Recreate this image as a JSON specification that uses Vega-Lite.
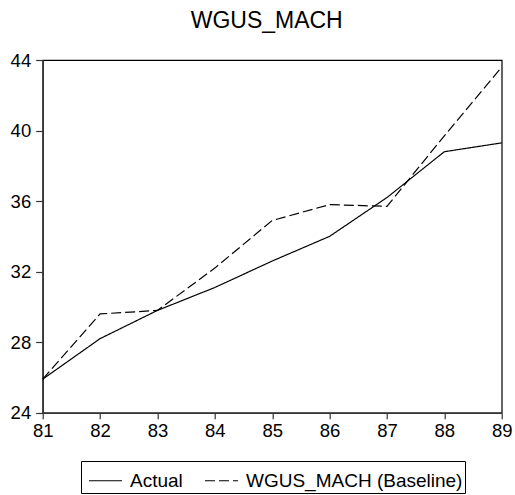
{
  "$schema": "https://vega.github.io/schema/vega-lite/v6.json",
  "width": 459,
  "height": 352.7,
  "autosize": {"type": "none"},
  "padding": {"left": 42.7, "top": 60, "right": 13.3, "bottom": 82.3},
  "background": "white",
  "title": {
    "text": "WGUS_MACH",
    "font": "Liberation Sans",
    "fontSize": 23,
    "fontWeight": "normal",
    "color": "black",
    "anchor": "middle",
    "offset": 18,
    "dx": -5.5
  },
  "config": {
    "view": {"stroke": "black", "strokeWidth": 1.2},
    "axis": {
      "labelFont": "Liberation Sans",
      "labelColor": "black",
      "labelFontSize": 18.5,
      "domainColor": "#333",
      "domainWidth": 1.5,
      "tickColor": "#333",
      "tickWidth": 1.2,
      "grid": false,
      "title": null
    }
  },
  "data": {
    "values": [
      {"year": 81, "value": 25.9, "series": "Actual"},
      {"year": 82, "value": 28.2, "series": "Actual"},
      {"year": 83, "value": 29.8, "series": "Actual"},
      {"year": 84, "value": 31.1, "series": "Actual"},
      {"year": 85, "value": 32.6, "series": "Actual"},
      {"year": 86, "value": 34.0, "series": "Actual"},
      {"year": 87, "value": 36.2, "series": "Actual"},
      {"year": 88, "value": 38.8, "series": "Actual"},
      {"year": 89, "value": 39.3, "series": "Actual"},
      {"year": 81, "value": 25.9, "series": "WGUS_MACH (Baseline)"},
      {"year": 82, "value": 29.6, "series": "WGUS_MACH (Baseline)"},
      {"year": 83, "value": 29.8, "series": "WGUS_MACH (Baseline)"},
      {"year": 84, "value": 32.2, "series": "WGUS_MACH (Baseline)"},
      {"year": 85, "value": 34.9, "series": "WGUS_MACH (Baseline)"},
      {"year": 86, "value": 35.8, "series": "WGUS_MACH (Baseline)"},
      {"year": 87, "value": 35.7, "series": "WGUS_MACH (Baseline)"},
      {"year": 88, "value": 39.7, "series": "WGUS_MACH (Baseline)"},
      {"year": 89, "value": 43.6, "series": "WGUS_MACH (Baseline)"}
    ]
  },
  "mark": {"type": "line", "color": "black", "strokeWidth": 1.2},
  "encoding": {
    "x": {
      "field": "year",
      "type": "quantitative",
      "scale": {"domain": [81, 89], "nice": false, "zero": false},
      "axis": {
        "values": [81, 82, 83, 84, 85, 86, 87, 88, 89],
        "format": "d",
        "tickSize": 6,
        "labelPadding": 3,
        "labelFlush": false,
        "labelOverlap": false
      }
    },
    "y": {
      "field": "value",
      "type": "quantitative",
      "scale": {"domain": [24, 44], "nice": false, "zero": false},
      "axis": {
        "values": [24, 28, 32, 36, 40, 44],
        "tickSize": 7,
        "labelPadding": 5,
        "labelFlush": false,
        "labelOverlap": false
      }
    },
    "strokeDash": {
      "field": "series",
      "type": "nominal",
      "scale": {
        "domain": ["Actual", "WGUS_MACH (Baseline)"],
        "range": [[1, 0], [10, 4]]
      },
      "legend": {
        "orient": "none",
        "legendX": 38.3,
        "legendY": 401,
        "direction": "horizontal",
        "title": null,
        "strokeColor": "black",
        "padding": 2,
        "symbolOffset": 5,
        "columnPadding": 16,
        "labelFont": "Liberation Sans",
        "labelFontSize": 19,
        "labelColor": "black",
        "labelLimit": 400,
        "labelOffset": 7,
        "symbolType": "stroke",
        "symbolSize": 1089,
        "symbolStrokeWidth": 1.2,
        "symbolStrokeColor": "black"
      }
    }
  }
}
